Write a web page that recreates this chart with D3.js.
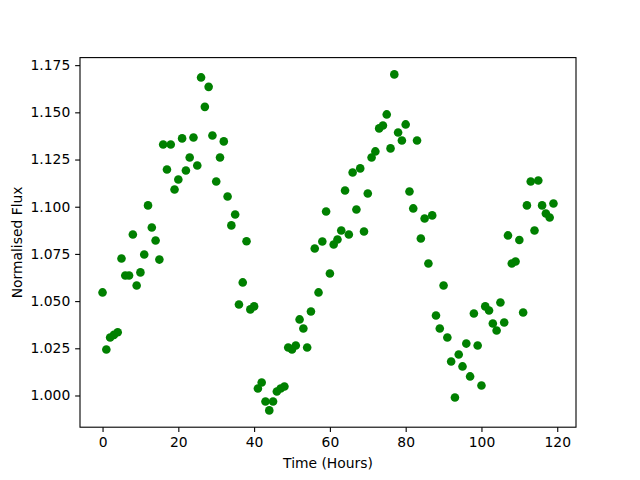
<!DOCTYPE html>
<html>
<head>
<meta charset="utf-8">
<script src="https://d3js.org/d3.v7.min.js"></script>
<style>
  body { margin: 0; background: #fff; }
  svg text { font-family: "DejaVu Sans", sans-serif; }
</style>
</head>
<body>
<script>
// hours of each sample
const hours = [
  0, 1, 2, 3, 4, 5, 6, 7, 8, 9, 10, 11, 12, 13, 14, 15, 16, 17, 18, 19,
  20, 21, 22, 23, 24, 25, 26, 27, 28, 29, 30, 31, 32, 33, 34, 35, 36, 37, 38, 39,
  40, 41, 42, 43, 44, 45, 46, 47, 48, 49, 50, 51, 52, 53, 54, 55, 56, 57, 58, 59,
  60, 61, 62, 63, 64, 65, 66, 67, 68, 69, 70, 71, 72, 73, 74, 75, 76, 77, 78, 79,
  80, 81, 82, 83, 84, 85, 86, 87, 88, 89, 90, 91, 92, 93, 94, 95, 96, 97, 98, 99,
  100, 101, 102, 103, 104, 105, 106, 107, 108, 109, 110, 111, 112, 113, 114, 115, 116, 117, 118, 119,
];

// normalised flux
const flux = [
  1.0546, 1.0244, 1.0307, 1.0321, 1.0335, 1.0726, 1.0636, 1.0636, 1.0853, 1.0583,
  1.0652, 1.0747, 1.1007, 1.0890, 1.0821, 1.0720, 1.1330, 1.1197, 1.1330, 1.1091,
  1.1144, 1.1362, 1.1192, 1.1261, 1.1367, 1.1218, 1.1685, 1.1529, 1.1635, 1.1377,
  1.1134, 1.1261, 1.1346, 1.1054, 1.0901, 1.0959, 1.0482, 1.0599, 1.0817, 1.0456,
  1.0472, 1.0037, 1.0069, 0.9968, 0.9921, 0.9968, 1.0021, 1.0037, 1.0048, 1.0254,
  1.0244, 1.0265, 1.0403, 1.0355, 1.0254, 1.0445, 1.0779, 1.0546, 1.0816, 1.0975,
  1.0646, 1.0800, 1.0826, 1.0874, 1.1086, 1.0853, 1.1181, 1.0985, 1.1203, 1.0869,
  1.1070, 1.1261, 1.1293, 1.1415, 1.1430, 1.1489, 1.1309, 1.1701, 1.1393, 1.1351,
  1.1436, 1.1081, 1.0991, 1.1351, 1.0832, 1.0938, 1.0699, 1.0954, 1.0424, 1.0355,
  1.0583, 1.0307, 1.0180, 0.9989, 1.0217, 1.0154, 1.0275, 1.0101, 1.0434, 1.0265,
  1.0053, 1.0472, 1.0450, 1.0381, 1.0344, 1.0493, 1.0387, 1.0848, 1.0699, 1.0710,
  1.0824, 1.0440, 1.1007, 1.1134, 1.0874, 1.1139, 1.1007, 1.0964, 1.0943, 1.1017,
];

const xTicks = [0, 20, 40, 60, 80, 100, 120];
const yTicks = [1.000, 1.025, 1.050, 1.075, 1.100, 1.125, 1.150, 1.175];

const width = 640;
const height = 480;
const margin = { left: 80, right: 64, top: 57.6, bottom: 52.8 }; // matplotlib default subplot box
const fontSize = 13.89; // 10pt @ 100dpi
const tickLen = 4.86;   // 3.5pt

function drawChart() {
  const svg = d3.select("body").append("svg")
    .attr("width", width)
    .attr("height", height);

  const points = hours.map((h, i) => ({ h: h, f: flux[i] }));

  // 5% padding like matplotlib autoscale
  const xExt = d3.extent(hours);
  const yExt = d3.extent(flux);
  const xPad = (xExt[1] - xExt[0]) * 0.05;
  const yPad = (yExt[1] - yExt[0]) * 0.05;

  const x = d3.scaleLinear()
    .domain([xExt[0] - xPad, xExt[1] + xPad])
    .range([margin.left, width - margin.right]);
  const y = d3.scaleLinear()
    .domain([yExt[0] - yPad, yExt[1] + yPad])
    .range([height - margin.bottom, margin.top]);

  // points
  svg.append("g")
    .selectAll("circle")
    .data(points)
    .enter()
    .append("circle")
    .attr("cx", (d) => x(d.h))
    .attr("cy", (d) => y(d.f))
    .attr("r", 4.3)
    .attr("fill", "green");

  // frame
  svg.append("rect")
    .attr("x", margin.left)
    .attr("y", margin.top)
    .attr("width", width - margin.left - margin.right)
    .attr("height", height - margin.top - margin.bottom)
    .attr("fill", "none")
    .attr("stroke", "black")
    .attr("stroke-width", 1.1);

  const xAxis = svg.append("g")
    .attr("transform", `translate(0,${height - margin.bottom})`)
    .call(d3.axisBottom(x).tickValues(xTicks).tickSize(tickLen).tickPadding(4.86).tickFormat(d3.format("d")));
  const yAxis = svg.append("g")
    .attr("transform", `translate(${margin.left},0)`)
    .call(d3.axisLeft(y).tickValues(yTicks).tickSize(tickLen).tickPadding(4.86).tickFormat(d3.format(".3f")));

  [xAxis, yAxis].forEach((ax) => {
    ax.select(".domain").remove();
    ax.selectAll(".tick line").attr("stroke", "black").attr("stroke-width", 1.1);
    ax.selectAll(".tick text")
      .attr("fill", "black")
      .style("font-family", "DejaVu Sans")
      .style("font-size", fontSize + "px");
  });

  // axis labels
  svg.append("text")
    .attr("x", (margin.left + width - margin.right) / 2)
    .attr("y", 467.5)
    .attr("text-anchor", "middle")
    .style("font-size", fontSize + "px")
    .text("Time (Hours)");

  svg.append("text")
    .attr("transform", `translate(22,${(margin.top + height - margin.bottom) / 2}) rotate(-90)`)
    .attr("text-anchor", "middle")
    .style("font-size", fontSize + "px")
    .text("Normalised Flux");
}

drawChart();
</script>
</body>
</html>
